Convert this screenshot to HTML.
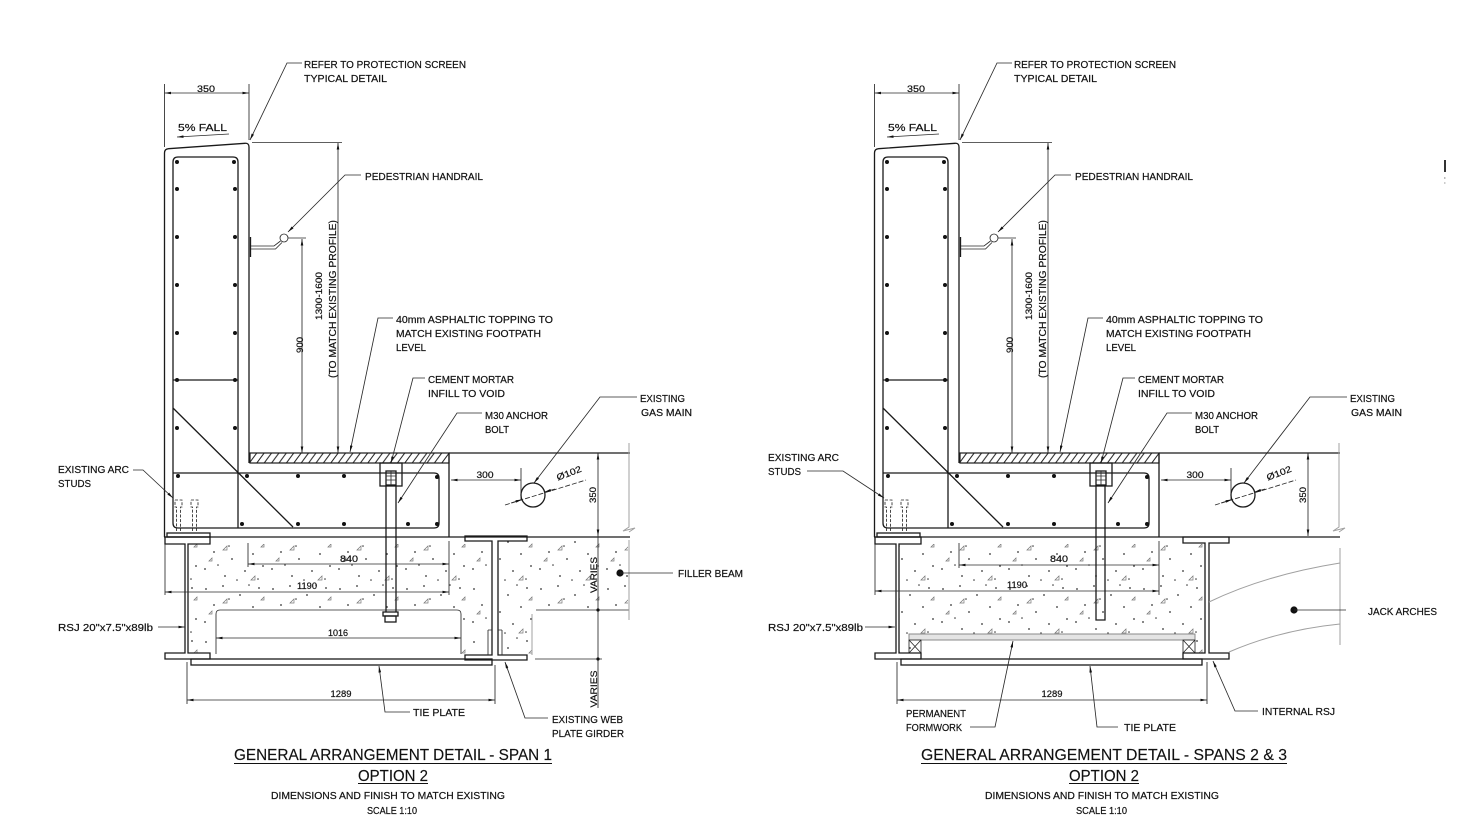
<!DOCTYPE html>
<html><head><meta charset="utf-8"><style>
html,body{margin:0;padding:0;background:#fff}
svg{display:block}
text{font-family:"Liberation Sans",sans-serif;fill:#111;font-size:10.5px;stroke:#111;stroke-width:0.2}
.l{stroke:#1a1a1a;stroke-width:1.3;fill:none}
.t{stroke:#2a2a2a;stroke-width:0.85;fill:none}
.g{stroke:#a0a0a0;stroke-width:1;fill:none}
.d{font-size:9px}
.tt{font-size:15.5px;stroke-width:0.15}
</style></head><body>
<svg width="1482" height="838" viewBox="0 0 1482 838" xmlns="http://www.w3.org/2000/svg">
<defs>
<marker id="a" viewBox="0 0 10 4" refX="10" refY="2" markerWidth="7" markerHeight="2.6" markerUnits="userSpaceOnUse" orient="auto-start-reverse"><path d="M0,0L10,2L0,4z" fill="#111"/></marker>
<pattern id="h" width="7.4" height="10" patternUnits="userSpaceOnUse"><path d="M0,10L7.4,0M-1,1.35L1,-1.35M6.4,11.35L8.4,8.65" stroke="#222" stroke-width="1"/></pattern>
<pattern id="st" width="67" height="53" patternUnits="userSpaceOnUse">
<g fill="#333"><circle cx="5" cy="6" r="0.9"/><circle cx="22" cy="3" r="0.9"/><circle cx="39" cy="12" r="0.9"/><circle cx="58" cy="5" r="0.9"/><circle cx="13" cy="22" r="0.9"/><circle cx="31" cy="29" r="0.9"/><circle cx="52" cy="24" r="0.9"/><circle cx="4" cy="39" r="0.9"/><circle cx="24" cy="46" r="0.9"/><circle cx="44" cy="41" r="0.9"/><circle cx="62" cy="36" r="0.9"/><circle cx="48" cy="2" r="0.8"/><circle cx="28" cy="16" r="0.8"/><circle cx="17" cy="35" r="0.8"/><circle cx="57" cy="49" r="0.8"/><circle cx="36" cy="50" r="0.8"/></g>
<path d="M22,20l4,-4v4zM50,50l4,-4v4zM8,31l3,-3v3zM60,17l3,-3v3z" stroke="#777" stroke-width="0.7" fill="none"/>
</pattern>
<g id="U">
<path class="t" d="M164.5,84V147M249,84V140"/>
<line class="t" x1="164.5" y1="93" x2="249" y2="93" marker-start="url(#a)" marker-end="url(#a)"/>
<line class="t" x1="229" y1="134" x2="177" y2="137" marker-end="url(#a)"/>
<path class="l" d="M164.5,537V153Q164.5,149 168.5,148.7L245,143.3Q249,143 249,147V463"/>
<rect x="250" y="453" width="199" height="10" fill="url(#h)" stroke="#1a1a1a" stroke-width="1.2"/>
<path class="l" d="M449,453V537M164,537H630M449,453H630"/>
<path class="g" d="M629,443V527l-6,4l12,-3l-6,4"/>
<path class="l" stroke-width="1.1" d="M178,157H233Q238,157 238,162V528M178,157Q173,157 173,162V523Q173,528 178,528H434Q439,528 439,523V478Q439,473 434,473H173M173,380H238M173,408L293,527"/>
<g fill="#111">
<circle cx="177" cy="162" r="2"/><circle cx="234" cy="162" r="2"/>
<circle cx="177" cy="189" r="2"/><circle cx="235" cy="189" r="2"/>
<circle cx="177" cy="237" r="2"/><circle cx="235" cy="237" r="2"/>
<circle cx="177" cy="285" r="2"/><circle cx="235" cy="285" r="2"/>
<circle cx="177" cy="333" r="2"/><circle cx="235" cy="333" r="2"/>
<circle cx="177" cy="380" r="2"/><circle cx="235" cy="380" r="2"/>
<circle cx="177" cy="428" r="2"/><circle cx="235" cy="428" r="2"/>
<circle cx="178" cy="476" r="2"/><circle cx="247" cy="476" r="2"/><circle cx="298" cy="476" r="2"/><circle cx="344" cy="476" r="2"/><circle cx="437" cy="477" r="2"/>
<circle cx="242" cy="524" r="2"/><circle cx="298" cy="524" r="2"/><circle cx="344" cy="524" r="2"/><circle cx="408" cy="524" r="2"/><circle cx="437" cy="524" r="2"/>
</g>
<path class="l" stroke-width="2.4" d="M250.5,237V257"/>
<path class="t" d="M251,246H274L280.5,241M251,249H275.5L282,242.5"/>
<circle cx="284" cy="238" r="4" class="t" fill="#fff"/>
<path class="t" d="M288,238H306M252,142.5H342"/>
<line class="t" x1="338" y1="143" x2="338" y2="453" marker-start="url(#a)" marker-end="url(#a)"/>
<line class="t" x1="302" y1="239" x2="302" y2="453" marker-start="url(#a)" marker-end="url(#a)"/>
<path class="t" d="M302,63H287L250,140" marker-end="url(#a)"/>
<path class="t" d="M361,175H345L288,232" marker-end="url(#a)"/>
<path class="t" d="M393,318H378L350,452" marker-end="url(#a)"/>
<path class="t" d="M425,378H413L391,463" marker-end="url(#a)"/>
<path class="t" d="M482,413H457L398,503" marker-end="url(#a)"/>
<path class="t" d="M637,397H600L534,483" marker-end="url(#a)"/>
<rect x="380" y="463" width="22" height="23" class="l" fill="#fff"/>
<rect x="386" y="471" width="10" height="14" class="l"/>
<path class="t" d="M386,476H396M386,480H396M391,471V485"/>
<path class="t" stroke-dasharray="3,1.6" d="M175,500H182V507H180.5V531M176.5,531V507H175V500M191,500H198V507H196.5V531M192.5,531V507H191V500"/>
<rect x="167" y="533" width="43" height="4" class="l" fill="#fff"/>
<line class="t" x1="451" y1="480" x2="521" y2="480" marker-start="url(#a)" marker-end="url(#a)"/>
<path class="t" d="M521,468V500"/>
<circle cx="533" cy="495" r="12" class="l"/>
<line class="t" x1="505" y1="505" x2="586" y2="480" stroke-dasharray="5,2"/>
<line class="t" x1="511" y1="503" x2="522" y2="499.5" marker-end="url(#a)"/>
<line class="t" x1="555" y1="489" x2="544.5" y2="492" marker-end="url(#a)"/>
<line class="t" x1="598" y1="453" x2="598" y2="536" marker-start="url(#a)" marker-end="url(#a)"/>
</g>
</defs>

<use href="#U"/>
<use href="#U" x="710"/>

<!-- ===== LEFT LOWER ===== -->
<rect x="188" y="544" width="302" height="110" fill="url(#st)"/>
<path fill="url(#st)" d="M498,541H628V610H536Q532,610 532,614V655H498Z"/>
<path fill="#fff" d="M216,655V614Q216,610 220,610H457Q461,610 461,614V655Z"/>
<path class="t" stroke-width="1" d="M216,654V614Q216,610 220,610H457Q461,610 461,614V654"/>
<path class="l" fill="#fff" d="M165,537H210V544H188V653H210V659H165V653H185V544H165Z"/>
<rect x="191" y="659" width="301" height="6" class="l" fill="#fff"/>
<path class="t" d="M165,544V595M449,541V595M248,543V567M187,662V704M495,665V704"/>
<line class="t" x1="248" y1="564" x2="449" y2="564" marker-start="url(#a)" marker-end="url(#a)"/>
<line class="t" x1="165" y1="592" x2="449" y2="592" marker-start="url(#a)" marker-end="url(#a)"/>
<line class="t" x1="216" y1="638" x2="461" y2="638" marker-start="url(#a)" marker-end="url(#a)"/>
<line class="t" x1="187" y1="700" x2="495" y2="700" marker-start="url(#a)" marker-end="url(#a)"/>
<path class="l" stroke-width="1.7" d="M386,486V612M396,486V612"/>
<rect x="383" y="612" width="15" height="4" class="l" fill="#fff"/>
<rect x="385" y="616" width="11" height="6" class="l" fill="#fff"/>
<path class="l" fill="#fff" d="M465,536V541H492V655H465V660H527V655H498V541H527V536Z"/>
<path class="t" d="M488,630V655M502,630V655M488,630H492M498,630H502"/>
<path class="t" d="M536,610H629M535,659H602"/>
<path class="g" d="M532,614V655M629,540V620"/>
<line class="t" x1="598" y1="536" x2="598" y2="708"/>
<g fill="#111"><circle cx="598" cy="610" r="1.6"/><circle cx="598" cy="659" r="1.6"/><circle cx="620" cy="573" r="3.6"/></g>
<path class="t" d="M620,573H673"/>
<path class="t" d="M133,470H143L173,498" marker-end="url(#a)"/>
<line class="t" x1="158" y1="627" x2="185" y2="627" marker-end="url(#a)"/>
<path class="t" d="M410,712H385L379,666" marker-end="url(#a)"/>
<path class="t" d="M548,718H525L505,662" marker-end="url(#a)"/>

<!-- ===== RIGHT LOWER ===== -->
<rect x="899" y="544" width="306" height="110" fill="url(#st)"/>
<rect x="921" y="640" width="262" height="15" fill="#fff"/>
<rect x="909" y="634" width="286" height="6" fill="#e4e4e4" stroke="#8a8a8a" stroke-width="1"/>
<path class="t" d="M909,640h12v13h-12zM909,640l12,13M921,640l-12,13M1183,640h12v13h-12zM1183,640l12,13M1195,640l-12,13"/>
<path class="l" fill="#fff" d="M875,537H921V544H899V653H921V659H875V653H896V544H875Z"/>
<path class="l" fill="#fff" d="M1183,537H1229V543H1209V653H1229V659H1183V653H1205V543H1183Z"/>
<rect x="901" y="659" width="301" height="6" class="l" fill="#fff"/>
<path class="t" d="M875,544V595M1159,541V595M959,543V568M897,662V704M1207,662V704"/>
<line class="t" x1="959" y1="565" x2="1159" y2="565" marker-start="url(#a)" marker-end="url(#a)"/>
<line class="t" x1="875" y1="591" x2="1159" y2="591" marker-start="url(#a)" marker-end="url(#a)"/>
<line class="t" x1="897" y1="700" x2="1207" y2="700" marker-start="url(#a)" marker-end="url(#a)"/>
<path class="l" stroke-width="1.7" fill="#fff" d="M1096,486V620H1105V486"/>
<path class="g" d="M1340,548V645M1209,602Q1265,575 1340,563M1229,652Q1280,630 1340,624"/>
<circle cx="1294" cy="610" r="3.6" fill="#111"/>
<path class="t" d="M1294,610H1346"/>
<path class="t" d="M807,471H843L884,498" marker-end="url(#a)"/>
<line class="t" x1="865" y1="627" x2="895" y2="627" marker-end="url(#a)"/>
<path class="t" d="M970,727H995L1013,641" marker-end="url(#a)"/>
<path class="t" d="M1118,727H1097L1090,666" marker-end="url(#a)"/>
<path class="t" d="M1258,711H1235L1213,661" marker-end="url(#a)"/>
<rect x="1444" y="160" width="2" height="12" fill="#333"/>
<rect x="1444" y="177" width="1.5" height="2" fill="#bbb"/>
<rect x="1444" y="182" width="1.5" height="2" fill="#ccc"/>

<!-- ===== TEXT LEFT ===== -->
<g>
<text class="d" x="206" y="92" text-anchor="middle" textLength="18" lengthAdjust="spacingAndGlyphs">350</text>
<text x="178" y="131" textLength="49" lengthAdjust="spacingAndGlyphs">5% FALL</text>
<text x="304" y="68" textLength="162" lengthAdjust="spacingAndGlyphs">REFER TO PROTECTION SCREEN</text>
<text x="304" y="82" textLength="83" lengthAdjust="spacingAndGlyphs">TYPICAL DETAIL</text>
<text x="365" y="180" textLength="118" lengthAdjust="spacingAndGlyphs">PEDESTRIAN HANDRAIL</text>
<text x="396" y="323" textLength="157" lengthAdjust="spacingAndGlyphs">40mm ASPHALTIC TOPPING TO</text>
<text x="396" y="337" textLength="145" lengthAdjust="spacingAndGlyphs">MATCH EXISTING FOOTPATH</text>
<text x="396" y="351" textLength="30" lengthAdjust="spacingAndGlyphs">LEVEL</text>
<text x="428" y="383" textLength="86" lengthAdjust="spacingAndGlyphs">CEMENT MORTAR</text>
<text x="428" y="397" textLength="77" lengthAdjust="spacingAndGlyphs">INFILL TO VOID</text>
<text x="485" y="419" textLength="63" lengthAdjust="spacingAndGlyphs">M30 ANCHOR</text>
<text x="485" y="433" textLength="24" lengthAdjust="spacingAndGlyphs">BOLT</text>
<text x="640" y="402" textLength="45" lengthAdjust="spacingAndGlyphs">EXISTING</text>
<text x="641" y="416" textLength="51" lengthAdjust="spacingAndGlyphs">GAS MAIN</text>
<text class="d" x="485" y="478" text-anchor="middle" textLength="17" lengthAdjust="spacingAndGlyphs">300</text>
<text class="d" transform="translate(570,476) rotate(-21)" text-anchor="middle" textLength="26" lengthAdjust="spacingAndGlyphs">Ø102</text>
<text class="d" transform="translate(596,495) rotate(-90)" text-anchor="middle" textLength="16" lengthAdjust="spacingAndGlyphs">350</text>
<text x="678" y="577" textLength="65" lengthAdjust="spacingAndGlyphs">FILLER BEAM</text>
<text x="58" y="473" textLength="71" lengthAdjust="spacingAndGlyphs">EXISTING ARC</text>
<text x="58" y="487" textLength="33" lengthAdjust="spacingAndGlyphs">STUDS</text>
<text x="58" y="631" textLength="95" lengthAdjust="spacingAndGlyphs">RSJ 20"x7.5"x89lb</text>
<text class="d" x="349" y="562" text-anchor="middle" textLength="18" lengthAdjust="spacingAndGlyphs">840</text>
<text class="d" x="307" y="589" text-anchor="middle" textLength="20" lengthAdjust="spacingAndGlyphs">1190</text>
<text class="d" x="338" y="636" text-anchor="middle" textLength="20" lengthAdjust="spacingAndGlyphs">1016</text>
<text class="d" x="341" y="697" text-anchor="middle" textLength="21" lengthAdjust="spacingAndGlyphs">1289</text>
<text x="413" y="716" textLength="52" lengthAdjust="spacingAndGlyphs">TIE PLATE</text>
<text x="552" y="723" textLength="71" lengthAdjust="spacingAndGlyphs">EXISTING WEB</text>
<text x="552" y="737" textLength="72" lengthAdjust="spacingAndGlyphs">PLATE GIRDER</text>
<text class="d" transform="translate(597,575) rotate(-90)" text-anchor="middle" textLength="36" lengthAdjust="spacingAndGlyphs">VARIES</text>
<text class="d" transform="translate(597,689) rotate(-90)" text-anchor="middle" textLength="37" lengthAdjust="spacingAndGlyphs">VARIES</text>
<text class="d" transform="translate(303,345) rotate(-90)" text-anchor="middle" textLength="16" lengthAdjust="spacingAndGlyphs">900</text>
<text class="d" transform="translate(322,296) rotate(-90)" text-anchor="middle" textLength="48" lengthAdjust="spacingAndGlyphs">1300-1600</text>
<text transform="translate(336,299) rotate(-90)" text-anchor="middle" textLength="158" lengthAdjust="spacingAndGlyphs">(TO MATCH EXISTING PROFILE)</text>
<text class="tt" x="234" y="760" textLength="318" lengthAdjust="spacingAndGlyphs">GENERAL ARRANGEMENT DETAIL - SPAN 1</text>
<path d="M234,763.5H552M358,783.5H428" stroke="#111" stroke-width="1"/>
<text class="tt" x="358" y="781" textLength="70" lengthAdjust="spacingAndGlyphs">OPTION 2</text>
<text x="271" y="799" textLength="234" lengthAdjust="spacingAndGlyphs">DIMENSIONS AND FINISH TO MATCH EXISTING</text>
<text x="367" y="814" textLength="50" lengthAdjust="spacingAndGlyphs">SCALE 1:10</text>
</g>

<!-- ===== TEXT RIGHT ===== -->
<g>
<text class="d" x="916" y="92" text-anchor="middle" textLength="18" lengthAdjust="spacingAndGlyphs">350</text>
<text x="888" y="131" textLength="49" lengthAdjust="spacingAndGlyphs">5% FALL</text>
<text x="1014" y="68" textLength="162" lengthAdjust="spacingAndGlyphs">REFER TO PROTECTION SCREEN</text>
<text x="1014" y="82" textLength="83" lengthAdjust="spacingAndGlyphs">TYPICAL DETAIL</text>
<text x="1075" y="180" textLength="118" lengthAdjust="spacingAndGlyphs">PEDESTRIAN HANDRAIL</text>
<text x="1106" y="323" textLength="157" lengthAdjust="spacingAndGlyphs">40mm ASPHALTIC TOPPING TO</text>
<text x="1106" y="337" textLength="145" lengthAdjust="spacingAndGlyphs">MATCH EXISTING FOOTPATH</text>
<text x="1106" y="351" textLength="30" lengthAdjust="spacingAndGlyphs">LEVEL</text>
<text x="1138" y="383" textLength="86" lengthAdjust="spacingAndGlyphs">CEMENT MORTAR</text>
<text x="1138" y="397" textLength="77" lengthAdjust="spacingAndGlyphs">INFILL TO VOID</text>
<text x="1195" y="419" textLength="63" lengthAdjust="spacingAndGlyphs">M30 ANCHOR</text>
<text x="1195" y="433" textLength="24" lengthAdjust="spacingAndGlyphs">BOLT</text>
<text x="1350" y="402" textLength="45" lengthAdjust="spacingAndGlyphs">EXISTING</text>
<text x="1351" y="416" textLength="51" lengthAdjust="spacingAndGlyphs">GAS MAIN</text>
<text class="d" x="1195" y="478" text-anchor="middle" textLength="17" lengthAdjust="spacingAndGlyphs">300</text>
<text class="d" transform="translate(1280,476) rotate(-21)" text-anchor="middle" textLength="26" lengthAdjust="spacingAndGlyphs">Ø102</text>
<text class="d" transform="translate(1306,495) rotate(-90)" text-anchor="middle" textLength="16" lengthAdjust="spacingAndGlyphs">350</text>
<text x="768" y="461" textLength="71" lengthAdjust="spacingAndGlyphs">EXISTING ARC</text>
<text x="768" y="475" textLength="33" lengthAdjust="spacingAndGlyphs">STUDS</text>
<text x="768" y="631" textLength="95" lengthAdjust="spacingAndGlyphs">RSJ 20"x7.5"x89lb</text>
<text class="d" x="1059" y="562" text-anchor="middle" textLength="18" lengthAdjust="spacingAndGlyphs">840</text>
<text class="d" x="1017" y="588" text-anchor="middle" textLength="20" lengthAdjust="spacingAndGlyphs">1190</text>
<text class="d" x="1052" y="697" text-anchor="middle" textLength="21" lengthAdjust="spacingAndGlyphs">1289</text>
<text x="906" y="717" textLength="60" lengthAdjust="spacingAndGlyphs">PERMANENT</text>
<text x="906" y="731" textLength="56" lengthAdjust="spacingAndGlyphs">FORMWORK</text>
<text x="1124" y="731" textLength="52" lengthAdjust="spacingAndGlyphs">TIE PLATE</text>
<text x="1262" y="715" textLength="73" lengthAdjust="spacingAndGlyphs">INTERNAL RSJ</text>
<text x="1368" y="615" textLength="69" lengthAdjust="spacingAndGlyphs">JACK ARCHES</text>
<text class="d" transform="translate(1013,345) rotate(-90)" text-anchor="middle" textLength="16" lengthAdjust="spacingAndGlyphs">900</text>
<text class="d" transform="translate(1032,296) rotate(-90)" text-anchor="middle" textLength="48" lengthAdjust="spacingAndGlyphs">1300-1600</text>
<text transform="translate(1046,299) rotate(-90)" text-anchor="middle" textLength="158" lengthAdjust="spacingAndGlyphs">(TO MATCH EXISTING PROFILE)</text>
<text class="tt" x="921" y="760" textLength="366" lengthAdjust="spacingAndGlyphs">GENERAL ARRANGEMENT DETAIL - SPANS 2 &amp; 3</text>
<path d="M921,763.5H1287M1069,783.5H1139" stroke="#111" stroke-width="1"/>
<text class="tt" x="1069" y="781" textLength="70" lengthAdjust="spacingAndGlyphs">OPTION 2</text>
<text x="985" y="799" textLength="234" lengthAdjust="spacingAndGlyphs">DIMENSIONS AND FINISH TO MATCH EXISTING</text>
<text x="1076" y="814" textLength="51" lengthAdjust="spacingAndGlyphs">SCALE 1:10</text>
</g>
</svg>
</body></html>
